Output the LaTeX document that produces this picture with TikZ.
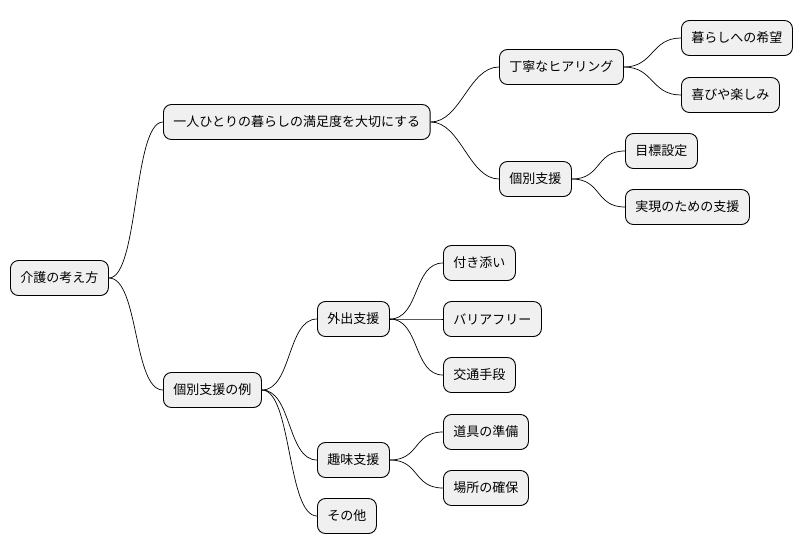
\documentclass[tikz,border=0pt]{standalone}
\usepackage{fontspec}
\setmainfont{Noto Sans CJK JP}
\begin{document}
\begin{tikzpicture}[x=1pt,y=-1pt,
 box/.style={draw=black,line width=0.9pt,fill=black!6,rounded corners=8pt,anchor=west,minimum height=35pt,inner xsep=10pt,font=\fontsize{13}{15}\selectfont},
 con/.style={line width=0.7pt}]
\useasboundingbox (0,0) rectangle (810,555);
\node[box] (r) at (10,278) {介護の考え方};
\node[box] (a) at (163,122) {一人ひとりの暮らしの満足度を大切にする};
\node[box] (b) at (163,390) {個別支援の例};
\node[box] (a1) at (499,67) {丁寧なヒアリング};
\node[box] (a2) at (499,179) {個別支援};
\node[box] (a11) at (681,38) {暮らしへの希望};
\node[box] (a12) at (681,95) {喜びや楽しみ};
\node[box] (a21) at (625,151) {目標設定};
\node[box] (a22) at (625,207) {実現のための支援};
\node[box] (b1) at (317,319) {外出支援};
\node[box] (b11) at (443,263) {付き添い};
\node[box] (b12) at (443,319) {バリアフリー};
\node[box] (b13) at (443,375) {交通手段};
\node[box] (b2) at (317,460) {趣味支援};
\node[box] (b21) at (443,432) {道具の準備};
\node[box] (b22) at (443,488) {場所の確保};
\node[box] (b3) at (317,516) {その他};
\foreach \p/\c in {r/a,r/b,a/a1,a/a2,a1/a11,a1/a12,a2/a21,a2/a22,b/b1,b/b2,b/b3,b1/b11,b1/b12,b1/b13,b2/b21,b2/b22}
 \draw[con] (\p.east) .. controls ([xshift=30pt]\p.east) and ([xshift=-30pt]\c.west) .. (\c.west);
\end{tikzpicture}
\end{document}
